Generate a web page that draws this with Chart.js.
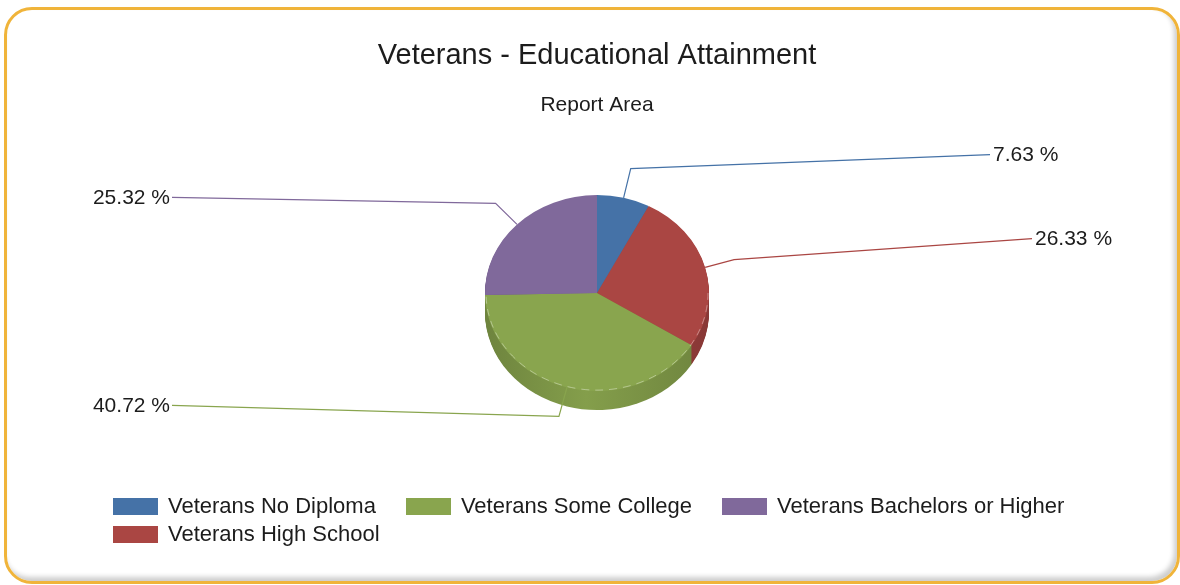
<!DOCTYPE html>
<html>
<head>
<meta charset="utf-8">
<title>Veterans - Educational Attainment</title>
<script src="https://cdn.jsdelivr.net/npm/chart.js@4.4.1/dist/chart.umd.min.js"></script>
<style>
  html, body { margin: 0; background: #fff; }
  #wrap { position: relative; width: 1180px; height: 585px; overflow: hidden; font-family: 'Liberation Sans', Arial, sans-serif; }
  #card { position: absolute; left: 4px; top: 7px; width: 1176px; height: 577px; box-sizing: border-box;
          border: 3px solid #f0b43a; border-radius: 28px; background: #fff;
          box-shadow: inset -3px -4px 5px rgba(0, 0, 0, 0.2); }
  #chart { position: absolute; left: 0; top: 0; }
  #legend { position: absolute; left: 113px; top: 492px; width: 1000px; display: flex; flex-wrap: wrap; column-gap: 30px; }
  .item { display: flex; align-items: center; height: 28px; font-size: 22px; color: #1c1c1c; white-space: nowrap; }
  .swatch { width: 45px; height: 17px; margin-right: 10px; }
</style>
</head>
<body>
<div id="wrap">
  <div id="card"></div>
  <canvas id="chart" width="1180" height="585"></canvas>
  <div id="legend"></div>
</div>
<script>
const categories = ['Veterans No Diploma', 'Veterans High School', 'Veterans Some College', 'Veterans Bachelors or Higher'];
const shares = [7.63, 26.33, 40.72, 25.32];
const colors = ['#4572A7', '#AA4643', '#89A54E', '#80699B'];

// legend is laid out in the same order as the original report
const legendOrder = [0, 2, 3, 1];

// leader lines: how far the label sits from the pie centre, and how much it is lifted
const labelReach = [393, 435, 425, 425];
const labelLift = [-14, -21, -11, -6];
const leaderLength = 30;

const tilt = 0.875;  // vertical squash of the pie
const depth = 19;    // thickness of the pie, px
const fontFamily = "'Liberation Sans', Arial, sans-serif";

function shade(hex, f) {
  const n = parseInt(hex.slice(1), 16);
  const r = Math.round(((n >> 16) & 255) * f);
  const g = Math.round(((n >> 8) & 255) * f);
  const b = Math.round((n & 255) * f);
  return `rgb(${r}, ${g}, ${b})`;
}

function squash(ctx, cy) {
  ctx.translate(0, cy);
  ctx.scale(1, tilt);
  ctx.translate(0, -cy);
}

// draws the side of the pie under the slices and flattens the top face
const pie3d = {
  id: 'pie3d',
  beforeDatasetsDraw(chart) {
    const ctx = chart.ctx;
    const arcs = chart.getDatasetMeta(0).data;
    const {x: cx, y: cy, outerRadius: r} = arcs[0];
    const sides = arcs.map((arc, i) => {
      const g = ctx.createLinearGradient(cx - r, 0, cx + r, 0);
      g.addColorStop(0, shade(colors[i], 0.8));
      g.addColorStop(0.45, shade(colors[i], 0.96));
      g.addColorStop(1, shade(colors[i], 0.8));
      return g;
    });
    for (let d = depth; d > 0; d--) {
      ctx.save();
      ctx.translate(0, d);
      squash(ctx, cy);
      arcs.forEach((arc, i) => {
        const side = Object.create(arc);
        side.options = Object.assign({}, arc.options, {backgroundColor: sides[i], borderWidth: 0});
        side.draw(ctx);
      });
      ctx.restore();
    }
    ctx.save();
    squash(ctx, cy);
  },
  afterDatasetsDraw(chart) {
    const ctx = chart.ctx;
    const arc = chart.getDatasetMeta(0).data[0];
    // light dashed rim along the front edge
    ctx.beginPath();
    ctx.arc(arc.x, arc.y, arc.outerRadius - 1, 0, Math.PI);
    ctx.setLineDash([8, 6]);
    ctx.strokeStyle = 'rgba(255, 255, 255, 0.4)';
    ctx.lineWidth = 1;
    ctx.stroke();
    ctx.setLineDash([]);
    ctx.restore();
  },
  afterDraw(chart) {
    const ctx = chart.ctx;
    const arcs = chart.getDatasetMeta(0).data;
    ctx.save();
    ctx.font = '21px ' + fontFamily;
    ctx.textBaseline = 'middle';
    arcs.forEach((arc, i) => {
      const mid = (arc.startAngle + arc.endAngle) / 2;
      const c = Math.cos(mid);
      const s = Math.sin(mid);
      const sx = arc.x + arc.outerRadius * c;
      const sy = arc.y + arc.outerRadius * s * tilt;
      const bx = sx + leaderLength * c;
      const by = sy + leaderLength * s;
      const right = c >= 0;
      const ex = arc.x + (right ? 1 : -1) * labelReach[i];
      const ey = by + labelLift[i];
      ctx.strokeStyle = colors[i];
      ctx.lineWidth = 1.2;
      ctx.beginPath();
      ctx.moveTo(sx, sy);
      ctx.lineTo(bx, by);
      ctx.lineTo(ex, ey);
      ctx.stroke();
      ctx.fillStyle = '#1c1c1c';
      ctx.textAlign = right ? 'left' : 'right';
      ctx.fillText(shares[i].toFixed(2) + ' %', ex + (right ? 3 : -2), ey + 1);
    });
    ctx.restore();
  }
};

const htmlLegend = {
  id: 'htmlLegend',
  afterUpdate(chart) {
    const box = document.getElementById('legend');
    box.innerHTML = '';
    const items = chart.options.plugins.legend.labels.generateLabels(chart);
    legendOrder.forEach(k => {
      const item = items[k];
      const el = document.createElement('div');
      el.className = 'item';
      const sw = document.createElement('span');
      sw.className = 'swatch';
      sw.style.background = item.fillStyle;
      el.appendChild(sw);
      el.appendChild(document.createTextNode(item.text));
      box.appendChild(el);
    });
  }
};

Chart.defaults.font.family = fontFamily;

new Chart(document.getElementById('chart'), {
  type: 'pie',
  data: {
    labels: categories,
    datasets: [{
      data: shares,
      backgroundColor: colors,
      borderWidth: 0
    }]
  },
  options: {
    responsive: false,
    animation: false,
    layout: {
      padding: {left: 14, right: 0, top: 0, bottom: 180}
    },
    plugins: {
      legend: {display: false},
      tooltip: {enabled: false},
      title: {
        display: true,
        text: 'Veterans - Educational Attainment',
        color: '#1c1c1c',
        font: {size: 29, weight: 'normal'},
        padding: {top: 38.6, bottom: 0}
      },
      subtitle: {
        display: true,
        text: 'Report Area',
        color: '#1c1c1c',
        font: {size: 21, weight: 'normal'},
        padding: {top: 19, bottom: 63.4}
      }
    }
  },
  plugins: [pie3d, htmlLegend]
});
</script>
</body>
</html>
